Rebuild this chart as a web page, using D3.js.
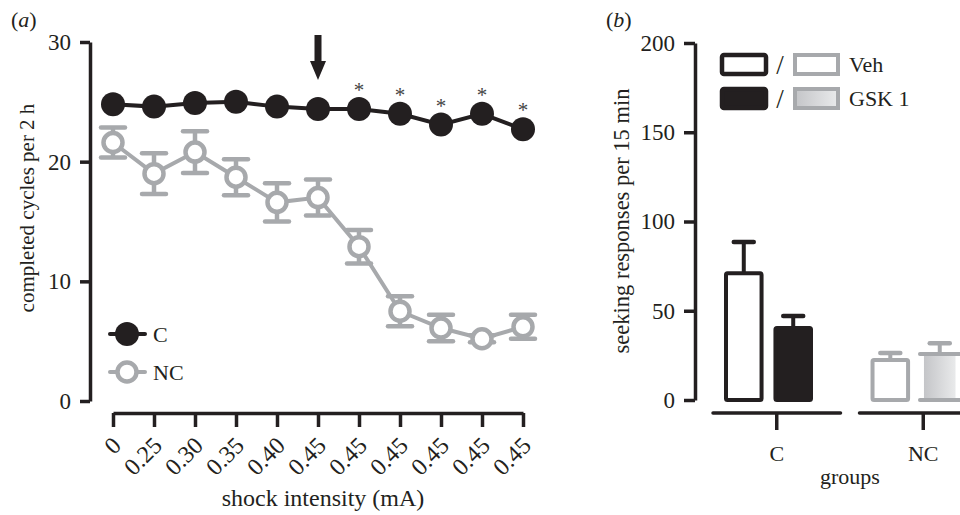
<!DOCTYPE html>
<html>
<head>
<meta charset="utf-8">
<script src="https://cdn.jsdelivr.net/npm/d3@7"></script>
<style>
  body { margin: 0; background: #fff; }
  svg { display: block; font-family: "Liberation Serif", "Times New Roman", serif; }
</style>
</head>
<body>
<script>
// panel a data
const shockLabels = ["0", "0.25", "0.30", "0.35", "0.40", "0.45", "0.45", "0.45", "0.45", "0.45", "0.45"];
const cMean = [24.8, 24.6, 24.9, 25.0, 24.6, 24.4, 24.4, 24.0, 23.1, 24.0, 22.7];
const ncMean = [21.6, 19.0, 20.8, 18.7, 16.6, 17.0, 12.9, 7.5, 6.1, 5.2, 6.2];
const ncErr = [1.25, 1.7, 1.75, 1.5, 1.6, 1.5, 1.4, 1.25, 1.1, 0.3, 1.0];
const starIdx = [6, 7, 8, 9, 10];
const arrowIdx = 5;
const yTicksA = [0, 10, 20, 30];

// panel b data
const groups = ["C", "NC"];
const treatments = ["Veh", "GSK 1"];
const vehMean = [71, 22.4];
const vehErr = [17.5, 4];
const gskMean = [40.3, 25.8];
const gskErr = [6.7, 6];
const yTicksB = [0, 50, 100, 150, 200];

const black = "#231f20";
const grey = "#a7a9ac";
const W = 960, H = 515;
const fs = 22;

const svg = d3.select("body").append("svg")
  .attr("width", W)
  .attr("height", H);

const defs = svg.append("defs");
const grad = defs.append("linearGradient").attr("id", "gsk").attr("x1", "0").attr("x2", "1").attr("y1", "0").attr("y2", "0");
grad.append("stop").attr("offset", "0").attr("stop-color", "#c4c5c8");
grad.append("stop").attr("offset", "1").attr("stop-color", "#e9eaeb");

function styleAxis(g) {
  g.select(".domain").attr("stroke", black).attr("stroke-width", 3.5);
  g.selectAll(".tick line").attr("stroke", black).attr("stroke-width", 3.5);
  g.selectAll(".tick text").attr("fill", black).attr("font-size", 23).attr("font-family", "Liberation Serif, serif");
}

// ---------- panel a ----------
const xA = d3.scalePoint().domain(d3.range(shockLabels.length)).range([113, 523]);
const yA = d3.scaleLinear().domain([0, 30]).range([401, 42]);

svg.append("g")
  .attr("transform", "translate(90,0)")
  .call(d3.axisLeft(yA).tickValues(yTicksA).tickSize(10).tickSizeOuter(0).tickPadding(9))
  .call(styleAxis);

const xAxisA = svg.append("g")
  .attr("transform", "translate(0,413)")
  .call(d3.axisBottom(xA).tickSize(14).tickSizeOuter(0).tickFormat(i => shockLabels[i]))
  .call(styleAxis);
xAxisA.selectAll(".tick text")
  .attr("text-anchor", "end")
  .attr("font-size", 24)
  .attr("dy", null)
  .attr("y", 0)
  .attr("transform", "translate(9,34) rotate(-45)");

svg.append("text")
  .attr("x", 323).attr("y", 506)
  .attr("text-anchor", "middle")
  .attr("font-size", 24).attr("fill", black)
  .text("shock intensity (mA)");

svg.append("text")
  .attr("transform", "translate(34,208) rotate(-90)")
  .attr("text-anchor", "middle")
  .attr("font-size", 21).attr("fill", black)
  .text("completed cycles per 2 h");

svg.append("text")
  .attr("x", 11).attr("y", 27)
  .attr("font-size", 22).attr("fill", black)
  .html('(<tspan font-style="italic">a</tspan>)');

// NC error bars
const ncG = svg.append("g");
ncMean.forEach((v, i) => {
  const x = xA(i), e = ncErr[i];
  ncG.append("line").attr("x1", x).attr("x2", x).attr("y1", yA(v - e)).attr("y2", yA(v + e))
    .attr("stroke", grey).attr("stroke-width", 4.5);
  [v - e, v + e].forEach(t => {
    ncG.append("line").attr("x1", x - 12).attr("x2", x + 12).attr("y1", yA(t)).attr("y2", yA(t))
      .attr("stroke", grey).attr("stroke-width", 4.5).attr("stroke-linecap", "round");
  });
});

const lineA = d3.line().x((d, i) => xA(i)).y(d => yA(d));

svg.append("path").datum(ncMean)
  .attr("d", lineA).attr("fill", "none")
  .attr("stroke", grey).attr("stroke-width", 4);
svg.append("g").selectAll("circle").data(ncMean).join("circle")
  .attr("cx", (d, i) => xA(i)).attr("cy", d => yA(d)).attr("r", 9.5)
  .attr("fill", "#fff").attr("stroke", grey).attr("stroke-width", 4.5);

svg.append("path").datum(cMean)
  .attr("d", lineA).attr("fill", "none")
  .attr("stroke", black).attr("stroke-width", 4);
svg.append("g").selectAll("circle").data(cMean).join("circle")
  .attr("cx", (d, i) => xA(i)).attr("cy", d => yA(d)).attr("r", 12)
  .attr("fill", black);

// significance stars
svg.append("g").selectAll("text").data(starIdx).join("text")
  .attr("x", i => xA(i)).attr("y", i => yA(cMean[i]) - 12)
  .attr("text-anchor", "middle")
  .attr("font-size", 21).attr("fill", "#444")
  .text("*");

// arrow
{
  const ax = xA(arrowIdx), tip = yA(cMean[arrowIdx]) - 29, top = yA(30) - 7;
  svg.append("path")
    .attr("d", `M${ax - 3.5},${top} L${ax + 3.5},${top} L${ax + 3.5},${tip - 19} L${ax + 8},${tip - 19} L${ax},${tip} L${ax - 8},${tip - 19} L${ax - 3.5},${tip - 19} Z`)
    .attr("fill", black);
}

// legend a
const legA = [["C", black, black, 12, 334], ["NC", grey, "#fff", 9.5, 372]];
legA.forEach(([name, col, fill, r, ly]) => {
  svg.append("line").attr("x1", 110).attr("x2", 145).attr("y1", ly).attr("y2", ly)
    .attr("stroke", col).attr("stroke-width", 4).attr("stroke-linecap", "round");
  svg.append("circle").attr("cx", 127).attr("cy", ly).attr("r", r)
    .attr("fill", fill).attr("stroke", col).attr("stroke-width", name === "C" ? 0 : 4.5);
  svg.append("text").attr("x", 153).attr("y", ly).attr("dy", "0.35em")
    .attr("font-size", fs).attr("fill", black).text(name);
});

// ---------- panel b ----------
const yB = d3.scaleLinear().domain([0, 200]).range([400, 43]);
const xB = d3.scaleBand().domain(groups).range([713, 987]).paddingInner(0.13);
const xIn = d3.scaleBand().domain(treatments).range([11, 100]).paddingInner(0.2);

svg.append("g")
  .attr("transform", "translate(695,0)")
  .call(d3.axisLeft(yB).tickValues(yTicksB).tickSize(11).tickSizeOuter(0).tickPadding(9))
  .call(styleAxis);

// separate x-axis segment per group
groups.forEach(g => {
  const x0 = xB(g), bw = xB.bandwidth();
  svg.append("line").attr("x1", x0).attr("x2", x0 + bw).attr("y1", 413).attr("y2", 413)
    .attr("stroke", black).attr("stroke-width", 3.5).attr("stroke-linecap", "round");
  svg.append("line").attr("x1", x0 + bw / 2).attr("x2", x0 + bw / 2).attr("y1", 413).attr("y2", 430)
    .attr("stroke", black).attr("stroke-width", 3.5);
  svg.append("text").attr("x", x0 + bw / 2).attr("y", 461)
    .attr("text-anchor", "middle").attr("font-size", fs).attr("fill", black).text(g);
});

svg.append("text")
  .attr("x", (xB("C") + xB("NC") + xB.bandwidth()) / 2).attr("y", 484)
  .attr("text-anchor", "middle").attr("font-size", fs).attr("fill", black)
  .text("groups");

svg.append("text")
  .attr("transform", "translate(629,221) rotate(-90)")
  .attr("text-anchor", "middle")
  .attr("font-size", 22.5).attr("fill", black)
  .text("seeking responses per 15 min");

svg.append("text")
  .attr("x", 606).attr("y", 27)
  .attr("font-size", 22).attr("fill", black)
  .html('(<tspan font-style="italic">b</tspan>)');

function errBar(cx, v, e, col) {
  svg.append("line").attr("x1", cx).attr("x2", cx).attr("y1", yB(v)).attr("y2", yB(v + e))
    .attr("stroke", col).attr("stroke-width", 4);
  svg.append("line").attr("x1", cx - 10).attr("x2", cx + 10).attr("y1", yB(v + e)).attr("y2", yB(v + e))
    .attr("stroke", col).attr("stroke-width", 4.5).attr("stroke-linecap", "round");
}

groups.forEach((g, gi) => {
  const col = g === "C" ? black : grey;
  const bw = xIn.bandwidth();
  // vehicle
  const xv = xB(g) + xIn("Veh");
  errBar(xv + bw / 2, vehMean[gi], vehErr[gi], col);
  svg.append("rect")
    .attr("x", xv + 2).attr("width", bw - 4)
    .attr("y", yB(vehMean[gi])).attr("height", yB(0) - yB(vehMean[gi]))
    .attr("rx", 1.5)
    .attr("fill", "#fff").attr("stroke", col).attr("stroke-width", 4);
  // GSK 1
  const xg = xB(g) + xIn("GSK 1");
  errBar(xg + bw / 2, gskMean[gi], gskErr[gi], col);
  if (g === "C") {
    svg.append("rect")
      .attr("x", xg + 2).attr("width", bw - 4)
      .attr("y", yB(gskMean[gi])).attr("height", yB(0) - yB(gskMean[gi]))
      .attr("rx", 1.5)
      .attr("fill", black).attr("stroke", black).attr("stroke-width", 4);
  } else {
    svg.append("rect")
      .attr("x", xg + 4).attr("width", bw - 8)
      .attr("y", yB(gskMean[gi])).attr("height", yB(0) - yB(gskMean[gi]))
      .attr("fill", "url(#gsk)");
    [gskMean[gi], 0].forEach(t => {
      svg.append("line").attr("x1", xg).attr("x2", xg + bw).attr("y1", yB(t)).attr("y2", yB(t))
        .attr("stroke", grey).attr("stroke-width", 4).attr("stroke-linecap", "round");
    });
  }
});

// legend b
const legB = [
  { name: "Veh", left: "#fff", right: "#fff", y: 64.5 },
  { name: "GSK 1", left: black, right: "url(#gsk)", y: 98.5 }
];
legB.forEach(d => {
  svg.append("rect").attr("x", 722).attr("y", d.y - 9.5).attr("width", 44).attr("height", 19).attr("rx", 2)
    .attr("fill", d.left).attr("stroke", black).attr("stroke-width", 4.5);
  svg.append("text").attr("x", 780).attr("y", d.y).attr("dy", "0.36em").attr("text-anchor", "middle")
    .attr("font-size", 27).attr("fill", black).text("/");
  svg.append("rect").attr("x", 795).attr("y", d.y - 9.5).attr("width", 43).attr("height", 19)
    .attr("fill", d.right).attr("stroke", grey).attr("stroke-width", 4);
  svg.append("text").attr("x", 849).attr("y", d.y).attr("dy", "0.35em")
    .attr("font-size", fs).attr("fill", black).text(d.name);
});
</script>
</body>
</html>
